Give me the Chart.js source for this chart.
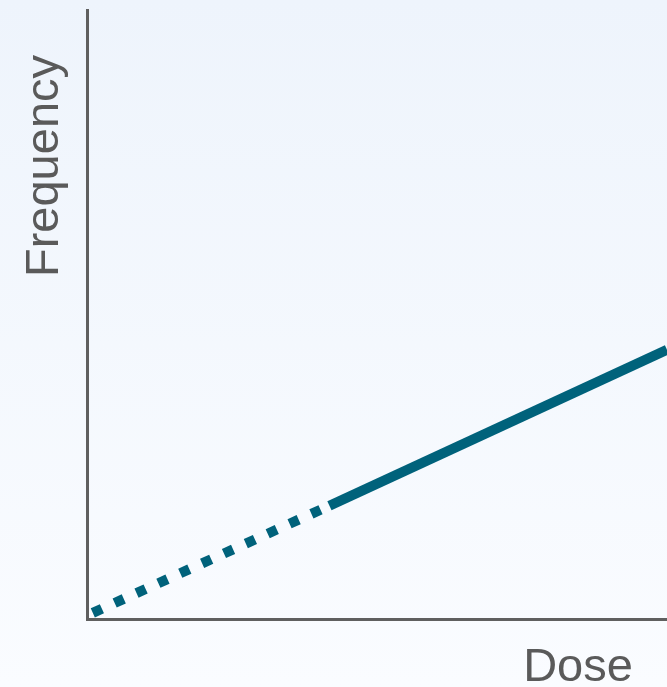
<!DOCTYPE html>
<html>
<head>
<meta charset="utf-8">
<script src="https://cdn.jsdelivr.net/npm/chart.js@4.4.1/dist/chart.umd.min.js"></script>
<style>
  html, body { margin: 0; padding: 0; background: #f4f8fd; }
  #wrap { width: 667px; height: 687px; position: relative; }
</style>
</head>
<body>
<div id="wrap"><canvas id="dose"></canvas></div>
<script>
// dose-response: linear no-threshold, extrapolated part dotted
var dottedDose = [1, 41.8];
var dottedFreq = [1, 18.6];
var solidDose = [41.8, 100];
var solidFreq = [18.6, 44.2];
var xTitle = 'Dose';
var yTitle = 'Frequency';

function toPoints(xs, ys) {
  return xs.map(function (x, i) { return { x: x, y: ys[i] }; });
}

var lineColor = '#00627b';
var axisColor = '#5f5f5f';
var textColor = '#5a5a5a';

var bgPlugin = {
  id: 'bg',
  beforeDraw: function (chart) {
    var ctx = chart.ctx;
    var g = ctx.createLinearGradient(0, 0, 0, chart.height);
    g.addColorStop(0, '#eef4fc');
    g.addColorStop(1, '#fafcff');
    ctx.save();
    ctx.fillStyle = g;
    ctx.fillRect(0, 0, chart.width, chart.height);
    ctx.restore();
  }
};

var labelPlugin = {
  id: 'labels',
  afterDraw: function (chart) {
    var ctx = chart.ctx;
    ctx.save();
    ctx.fillStyle = textColor;
    ctx.font = '47px "Liberation Sans", Arial, sans-serif';
    ctx.textAlign = 'center';
    ctx.textBaseline = 'alphabetic';
    ctx.fillText(xTitle, 578, 681);
    ctx.translate(58, 166);
    ctx.rotate(-Math.PI / 2);
    ctx.fillText(yTitle, 0, 0);
    ctx.restore();
  }
};

new Chart(document.getElementById('dose'), {
  type: 'line',
  data: {
    datasets: [{
      data: toPoints(dottedDose, dottedFreq),
      borderColor: lineColor,
      borderWidth: 10,
      borderDash: [10, 14],
      borderCapStyle: 'butt',
      pointRadius: 0,
      tension: 0
    }, {
      data: toPoints(solidDose, solidFreq),
      borderColor: lineColor,
      borderWidth: 10,
      borderCapStyle: 'butt',
      pointRadius: 0,
      tension: 0
    }]
  },
  options: {
    responsive: true,
    maintainAspectRatio: false,
    animation: false,
    layout: { padding: { left: 87, top: 10, right: 0, bottom: 68 } },
    plugins: { legend: { display: false }, tooltip: { enabled: false } },
    scales: {
      x: {
        type: 'linear', min: 0, max: 100,
        ticks: { display: false },
        grid: { display: false, drawTicks: false },
        border: { display: true, color: axisColor, width: 3 }
      },
      y: {
        type: 'linear', min: 0, max: 100,
        ticks: { display: false },
        grid: { display: false, drawTicks: false },
        border: { display: true, color: axisColor, width: 3 }
      }
    }
  },
  plugins: [bgPlugin, labelPlugin]
});
</script>
</body>
</html>
